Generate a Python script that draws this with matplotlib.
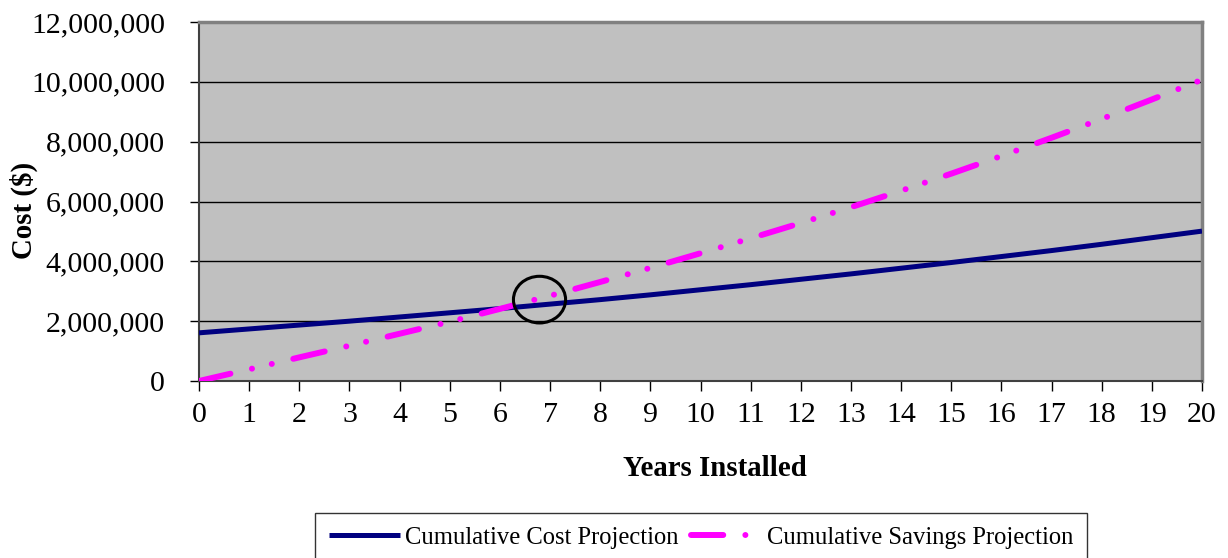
import matplotlib
matplotlib.use("Agg")
import matplotlib.pyplot as plt
from matplotlib.patches import Ellipse
from matplotlib.ticker import FuncFormatter

years = list(range(0, 21))
cost = [1.61, 1.74, 1.87, 2.00, 2.14, 2.28, 2.42, 2.57, 2.72, 2.88, 3.05,
        3.22, 3.40, 3.58, 3.77, 3.96, 4.16, 4.36, 4.57, 4.79, 5.01]
savings = [0.00, 0.39, 0.79, 1.18, 1.58, 1.98, 2.41, 2.85, 3.31, 3.78, 4.27,
           4.77, 5.28, 5.81, 6.36, 6.93, 7.52, 8.13, 8.76, 9.41, 10.07]
cost = [v * 1e6 for v in cost]
savings = [v * 1e6 for v in savings]
y_ticks = [0, 2e6, 4e6, 6e6, 8e6, 10e6, 12e6]
circle_center = (6.79, 2.72e6)
circle_size = (1.04, 1.56e6)

plt.rcParams['font.family'] = ['Liberation Serif', 'DejaVu Serif']

fig = plt.figure(figsize=(12.28, 5.58), dpi=100)
ax = fig.add_axes([199/1228, 1-381/558, (1202-199)/1228, (381-22)/558])
ax.set_facecolor('#C0C0C0')

for t in y_ticks[1:]:
    ax.axhline(t, color='black', lw=1.0, zorder=1)

ax.plot(years, cost, color='#000080', lw=3.6, solid_capstyle='butt', zorder=3,
        label='Cumulative Cost Projection')
ax.plot(years, savings, color='#FF00FF', lw=4.3, zorder=3,
        dash_capstyle='round',
        linestyle=(0, (5.4, 3.7, 0.01, 3.4, 0.01, 3.7)),
        label='Cumulative Savings Projection')

ell = Ellipse(circle_center, circle_size[0], circle_size[1], fill=False,
              edgecolor='black', lw=2.2, zorder=4)
ax.add_patch(ell)

ax.set_xlim(0, 20)
ax.set_ylim(0, 12e6)
ax.set_xticks(years)
ax.set_yticks(y_ticks)
ax.yaxis.set_major_formatter(FuncFormatter(lambda v, p: f"{int(v):,}"))
ax.tick_params(axis='both', labelsize=21.5, colors='black', direction='out')
ax.tick_params(axis='x', length=7, width=1, pad=8)
ax.tick_params(axis='y', length=6.5, width=1, pad=18)

for s in ['top', 'right']:
    ax.spines[s].set_color('#808080')
    ax.spines[s].set_linewidth(2.5)
for s in ['left', 'bottom']:
    ax.spines[s].set_color('#404040')
    ax.spines[s].set_linewidth(1.5)

ax.set_xlabel('Years Installed', fontsize=20.8, fontweight='bold')
ax.set_ylabel('Cost ($)', fontsize=20.8, fontweight='bold')
ax.xaxis.set_label_coords((715 - 199) / 1003, (381 - 455) / 359)
ax.yaxis.set_label_coords((38 - 199) / 1003, 0.476)

leg = fig.legend(loc='upper center', bbox_to_anchor=(701/1228, 1-513/558),
                 bbox_transform=fig.transFigure, ncol=2, fontsize=17.7,
                 frameon=True, fancybox=False, edgecolor='black',
                 handlelength=2.9, handletextpad=0.2, columnspacing=0.5,
                 borderpad=0.55, borderaxespad=0)
leg.get_frame().set_linewidth(1.0)

fig.savefig('out.png', dpi=100)
